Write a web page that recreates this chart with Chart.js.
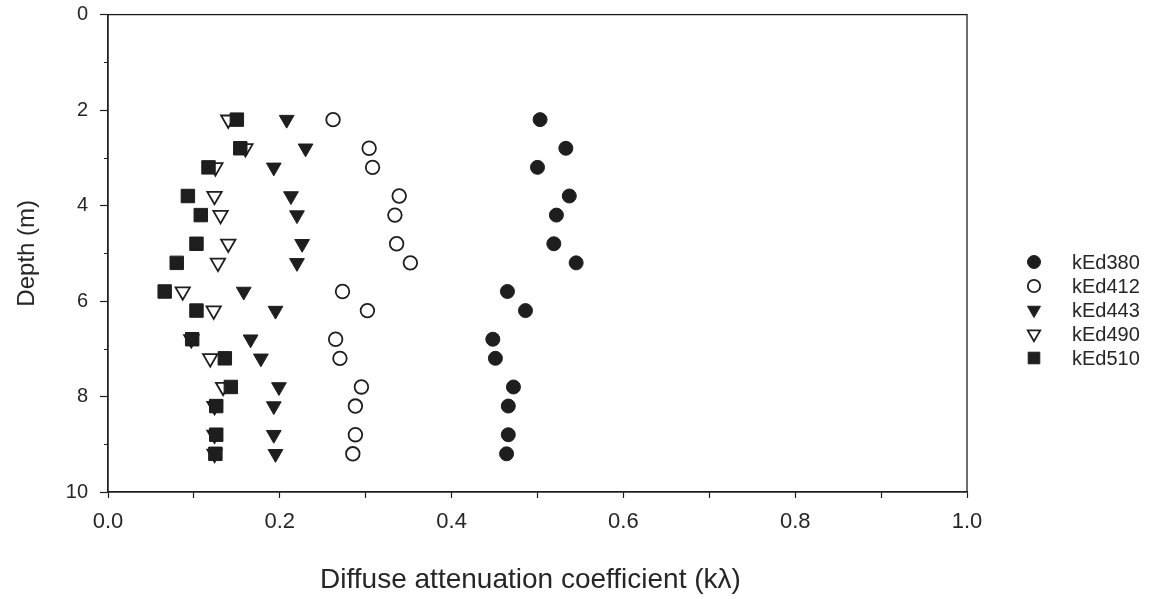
<!DOCTYPE html>
<html>
<head>
<meta charset="utf-8">
<script src="https://cdn.jsdelivr.net/npm/chart.js@4/dist/chart.umd.min.js"></script>
<style>
html,body{margin:0;padding:0;background:#fff;}
#wrap{width:1157px;height:599px;position:relative;}
</style>
</head>
<body>
<div id="wrap"><canvas id="c" width="1157" height="599"></canvas></div>
<script>
// Depth (m) of each measurement
const depths = [2.2, 2.8, 3.2, 3.8, 4.2, 4.8, 5.2, 5.8, 6.2, 6.8, 7.2, 7.8, 8.2, 8.8, 9.2];
// Diffuse attenuation coefficients per wavelength
const kEd380 = [0.503, 0.533, 0.500, 0.537, 0.522, 0.519, 0.545, 0.465, 0.486, 0.448, 0.451, 0.472, 0.466, 0.466, 0.464];
const kEd412 = [0.262, 0.304, 0.308, 0.339, 0.334, 0.336, 0.352, 0.273, 0.302, 0.265, 0.270, 0.295, 0.288, 0.288, 0.285];
const kEd443 = [0.208, 0.230, 0.193, 0.213, 0.220, 0.226, 0.220, 0.158, 0.195, 0.166, 0.178, 0.199, 0.193, 0.193, 0.195];
const kEd490 = [0.140, 0.160, 0.125, 0.124, 0.131, 0.140, 0.128, 0.087, 0.123, 0.097, 0.119, 0.134, 0.124, 0.124, 0.124];
const kEd510 = [0.150, 0.154, 0.117, 0.093, 0.108, 0.103, 0.080, 0.066, 0.103, 0.098, 0.136, 0.143, 0.126, 0.126, 0.125];
const seriesNames = ['kEd380', 'kEd412', 'kEd443', 'kEd490', 'kEd510'];
const xTicks = [0.0, 0.2, 0.4, 0.6, 0.8, 1.0];
const yTicks = [0, 2, 4, 6, 8, 10];
const yMinorTicks = [1, 3, 5, 7, 9];
const xTitle = 'Diffuse attenuation coefficient (k\u03BB)';

const INK = '#1e1e1e';
const TEXT = '#262626';
const pts = (vals) => vals.map((v, i) => ({x: v, y: depths[i]}));

const styles = [
  {pointStyle: 'circle',   rotation: 0,   pointRadius: 7,   backgroundColor: INK,   borderColor: INK, borderWidth: 1,   order: 4},
  {pointStyle: 'circle',   rotation: 0,   pointRadius: 6.8, backgroundColor: '#fff', borderColor: INK, borderWidth: 1.8, order: 3},
  {pointStyle: 'triangle', rotation: 180, pointRadius: 8.5, backgroundColor: INK,   borderColor: INK, borderWidth: 1,   order: 2},
  {pointStyle: 'triangle', rotation: 180, pointRadius: 8.3, backgroundColor: '#fff', borderColor: INK, borderWidth: 1.8, order: 1},
  {pointStyle: 'rect',     rotation: 0,   pointRadius: 9.5, backgroundColor: INK,   borderColor: INK, borderWidth: 1,   order: 0}
];
const allSeries = [kEd380, kEd412, kEd443, kEd490, kEd510];

const datasets = allSeries.map((vals, i) => ({
  label: seriesNames[i],
  data: pts(vals),
  showLine: false,
  pointStyle: styles[i].pointStyle,
  rotation: styles[i].rotation,
  pointRadius: styles[i].pointRadius,
  pointHoverRadius: styles[i].pointRadius,
  pointBackgroundColor: styles[i].backgroundColor,
  pointBorderColor: styles[i].borderColor,
  pointBorderWidth: styles[i].borderWidth,
  backgroundColor: styles[i].backgroundColor,
  borderColor: styles[i].borderColor,
  order: styles[i].order
}));

function drawMarker(ctx, st, x, y, r) {
  ctx.save();
  ctx.fillStyle = st.backgroundColor;
  ctx.strokeStyle = st.borderColor;
  ctx.lineWidth = st.borderWidth;
  ctx.beginPath();
  if (st.pointStyle === 'circle') {
    ctx.arc(x, y, r, 0, Math.PI * 2);
  } else if (st.pointStyle === 'rect') {
    const s = r * Math.SQRT1_2;
    ctx.rect(x - s, y - s, 2 * s, 2 * s);
  } else {
    const a = Math.PI / 180 * st.rotation;
    for (let k = 0; k < 3; k++) {
      const ang = a + k * 2 * Math.PI / 3;
      const px = x + Math.sin(ang) * r, py = y - Math.cos(ang) * r;
      if (k === 0) ctx.moveTo(px, py); else ctx.lineTo(px, py);
    }
    ctx.closePath();
  }
  ctx.fill();
  ctx.stroke();
  ctx.restore();
}

const framePlugin = {
  id: 'frame',
  beforeDatasetsDraw(chart) {
    const {ctx, chartArea: a} = chart;
    ctx.save();
    ctx.strokeStyle = INK;
    ctx.lineWidth = 1.3;
    ctx.strokeRect(a.left, a.top, a.right - a.left, a.bottom - a.top);
    // short minor ticks on the depth axis
    const ys = chart.scales.y;
    ctx.lineWidth = 1.2;
    ctx.beginPath();
    yMinorTicks.forEach(v => {
      const py = Math.round(ys.getPixelForValue(v)) + 0.5;
      ctx.moveTo(a.left - 4, py);
      ctx.lineTo(a.left, py);
    });
    ctx.stroke();
    // x axis title, drawn slightly left of the plot centre as in the source
    ctx.fillStyle = TEXT;
    ctx.font = '28px "Liberation Sans", Arial, sans-serif';
    ctx.textAlign = 'center';
    ctx.textBaseline = 'middle';
    ctx.fillText(xTitle, (a.left + a.right) / 2 - 7, 580);
    ctx.restore();
  }
};

const legendPlugin = {
  id: 'sideLegend',
  afterDraw(chart) {
    const ctx = chart.ctx;
    const x0 = 1034, tx = 1072, y0 = 262, dy = 24;
    const legR = [6.5, 6.2, 7.5, 7.2, 8.2];
    chart.data.datasets.forEach((ds, i) => {
      const y = y0 + i * dy;
      drawMarker(ctx, styles[i], x0, y, legR[i]);
      ctx.save();
      ctx.fillStyle = TEXT;
      ctx.font = '20px "Liberation Sans", Arial, sans-serif';
      ctx.textBaseline = 'middle';
      ctx.textAlign = 'left';
      ctx.fillText(ds.label, tx, y + 1);
      ctx.restore();
    });
  }
};

new Chart(document.getElementById('c'), {
  type: 'scatter',
  data: {datasets},
  options: {
    responsive: false,
    animation: false,
    devicePixelRatio: 1,
    layout: {padding: {left: 0, right: 190, top: 14.6, bottom: 0}},
    plugins: {legend: {display: false}, tooltip: {enabled: false}},
    scales: {
      x: {
        type: 'linear', min: 0, max: 1,
        afterFit: (s) => { s.height = 107; s.paddingLeft = 0; s.paddingRight = 0; },
        afterBuildTicks: (s) => {
          const t = [];
          for (let k = 0; k <= 10; k++) t.push({value: k / 10});
          s.ticks = t;
        },
        ticks: {
          color: TEXT,
          font: {family: '"Liberation Sans Narrow", "Liberation Sans", Arial, sans-serif', size: 22},
          padding: 11,
          maxRotation: 0,
          autoSkip: false,
          callback: (v) => {
            const hit = xTicks.find(t => Math.abs(t - v) < 1e-6);
            return hit === undefined ? '' : hit.toFixed(1);
          }
        },
        grid: {display: true, drawOnChartArea: false, drawTicks: true, tickLength: 6, tickColor: INK, tickWidth: 1.2},
        border: {display: true, color: INK, width: 1.3},
        title: {display: false}
      },
      y: {
        type: 'linear', min: 0, max: 10, reverse: true,
        afterFit: (s) => { s.width = 108; s.paddingTop = 0; s.paddingBottom = 0; },
        afterBuildTicks: (s) => {
          s.ticks = yTicks.map(v => ({value: v}));
        },
        ticks: {
          color: TEXT,
          font: {family: '"Liberation Sans", Arial, sans-serif', size: 20},
          padding: 12,
          autoSkip: false,
          callback: (v) => String(v)
        },
        grid: {display: true, drawOnChartArea: false, drawTicks: true, tickLength: 8, tickColor: INK, tickWidth: 1.2},
        border: {display: true, color: INK, width: 1.3},
        title: {
          display: true,
          text: 'Depth (m)',
          color: TEXT,
          font: {family: '"Liberation Sans", Arial, sans-serif', size: 24},
          padding: {top: 13, bottom: 0}
        }
      }
    }
  },
  plugins: [framePlugin, legendPlugin]
});
</script>
</body>
</html>
